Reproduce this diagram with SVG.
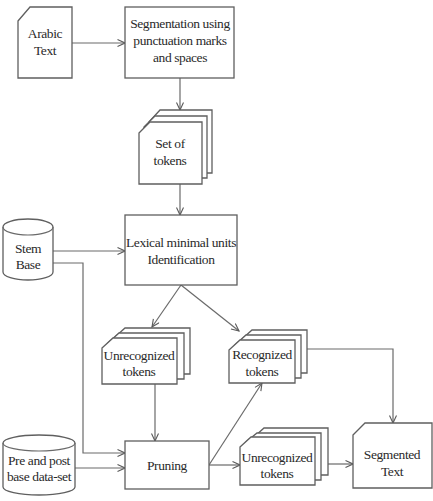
<svg xmlns="http://www.w3.org/2000/svg" width="433" height="501" viewBox="0 0 433 501">
<defs>
<marker id="arr" markerWidth="9" markerHeight="9" refX="8" refY="4" orient="auto" markerUnits="userSpaceOnUse">
<path d="M0.5,0.5 L8,4 L0.5,7.5" fill="none" stroke="#5a5a5a" stroke-width="1.1"/>
</marker>
</defs>
<style>
.s{fill:#fff;stroke:#5f5f5f;stroke-width:1.3}
.c{fill:none;stroke:#6a6a6a;stroke-width:1.2;marker-end:url(#arr)}
.n{fill:none;stroke:#6a6a6a;stroke-width:1.2}
text{font-family:"Liberation Serif","Times New Roman","DejaVu Serif",serif;font-size:13.5px;fill:#2a2a2a;text-anchor:middle;letter-spacing:-0.4px}
</style>
<rect width="433" height="501" fill="#fff"/>
<g id="connectors">
<path class="c" d="M72,43 H125"/>
<path class="c" d="M180,78 V110"/>
<path class="c" d="M180,184 V215"/>
<path class="c" d="M53,251 H125"/>
<path class="c" d="M53,263 H83 V453 H125"/>
<path class="c" d="M75,468 H125"/>
<path class="c" d="M181,285 L152,327"/>
<path class="c" d="M181,285 L239,331"/>
<path class="c" d="M155,384 V441"/>
<path class="c" d="M209,465 L262,383"/>
<path class="c" d="M209,465 H240"/>
<path class="c" d="M328,464 H353"/>
<path class="c" d="M307,349 H393 V423"/>
</g>
<g id="arabic-text">
<path class="s" d="M18,21 L30,7 H72 V78 H18 Z"/>
<text x="45" y="38">Arabic</text>
<text x="45" y="55">Text</text>
</g>
<g id="segmentation">
<rect class="s" x="125" y="7" width="109" height="71"/>
<text x="180" y="28">Segmentation using</text>
<text x="180" y="45">punctuation marks</text>
<text x="180" y="62">and spaces</text>
</g>
<g id="set-of-tokens">
<path class="s" d="M149,122 L160,110 H212 V173 H149 Z"/>
<path class="s" d="M144,127 L155,116 H207 V178 H144 Z"/>
<path class="s" d="M139,133 L150,122 H202 V184 H139 Z"/>
<text x="170" y="148">Set of</text>
<text x="170" y="165">tokens</text>
</g>
<g id="lexical">
<rect class="s" x="125" y="215" width="112" height="70"/>
<text x="181" y="247">Lexical minimal units</text>
<text x="181" y="264">Identification</text>
</g>
<g id="stem-base">
<path class="s" d="M3,227 V272 A25,8 0 0 0 53,272 V227 A25,8 0 0 0 3,227 Z"/>
<path class="n" d="M3,227 A25,8 0 0 0 53,227"/>
<text x="28" y="253">Stem</text>
<text x="28" y="269">Base</text>
</g>
<g id="unrecognized-left">
<path class="s" d="M114,338 L125,328 H190 V374 H114 Z"/>
<path class="s" d="M108,343 L119,333 H184 V379 H108 Z"/>
<path class="s" d="M102,348 L113,338 H177 V384 H102 Z"/>
<text x="139" y="360">Unrecognized</text>
<text x="139" y="376">tokens</text>
</g>
<g id="recognized">
<path class="s" d="M241,340 L252,330 H307 V373 H241 Z"/>
<path class="s" d="M235,345 L246,335 H301 V378 H235 Z"/>
<path class="s" d="M229,350 L240,340 H295 V383 H229 Z"/>
<text x="262" y="359">Recognized</text>
<text x="262" y="376">tokens</text>
</g>
<g id="pre-post-base">
<path class="s" d="M3,443 V487 A36,8 0 0 0 75,487 V443 A36,8 0 0 0 3,443 Z"/>
<path class="n" d="M3,443 A36,8 0 0 0 75,443"/>
<text x="39" y="465">Pre and post</text>
<text x="39" y="481">base data-set</text>
</g>
<g id="pruning">
<rect class="s" x="125" y="441" width="84" height="48"/>
<text x="167" y="470">Pruning</text>
</g>
<g id="unrecognized-right">
<path class="s" d="M253,438 L264,428 H328 V475 H253 Z"/>
<path class="s" d="M246,442 L257,433 H321 V480 H246 Z"/>
<path class="s" d="M240,447 L251,437 H315 V485 H240 Z"/>
<text x="277" y="462">Unrecognized</text>
<text x="277" y="478">tokens</text>
</g>
<g id="segmented-text">
<path class="s" d="M353,435 L365,423 H432 V488 H353 Z"/>
<text x="392" y="459">Segmented</text>
<text x="392" y="476">Text</text>
</g>
</svg>
